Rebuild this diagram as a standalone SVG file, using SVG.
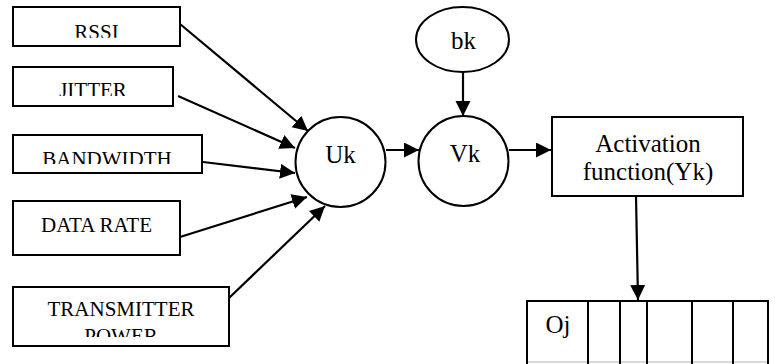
<svg xmlns="http://www.w3.org/2000/svg" width="779" height="364" viewBox="0 0 779 364">
<style>
.box{fill:#fff;stroke:#000;stroke-width:2}
.node{fill:#fff;stroke:#000;stroke-width:2}
.t{font-family:'Liberation Serif','DejaVu Serif',serif;fill:#000;text-anchor:middle}
.s21{font-size:21px}
.s25{font-size:25px}
.conn{stroke:#000;stroke-width:2.2;fill:none;marker-end:url(#ah)}
.grid{stroke:#000;stroke-width:2;fill:none}
</style>
<defs>
<marker id="ah" markerUnits="userSpaceOnUse" markerWidth="16" markerHeight="16" refX="15" refY="7.5" orient="auto">
<path d="M0,0 L15,7.5 L0,15 z" fill="#000"/>
</marker>
<clipPath id="c1"><rect x="13" y="7" width="167" height="30.7"/></clipPath>
<clipPath id="c2"><rect x="13" y="67" width="160" height="29"/></clipPath>
<clipPath id="c3"><rect x="13" y="135" width="189" height="29"/></clipPath>
<clipPath id="c5"><rect x="13" y="287" width="216" height="50"/></clipPath>
</defs>
<rect width="779" height="364" fill="#fff"/>
<g id="rssi">
<rect class="box" x="13" y="7" width="167" height="39"/>
<text class="t s21" x="96.5" y="39" clip-path="url(#c1)">RSSI</text>
</g>
<g id="jitter">
<rect class="box" x="13" y="67" width="160" height="39"/>
<text class="t s21" x="93" y="97" clip-path="url(#c2)">JITTER</text>
</g>
<g id="bandwidth">
<rect class="box" x="13" y="135" width="189" height="38"/>
<text class="t s21" x="107" y="166" clip-path="url(#c3)">BANDWIDTH</text>
</g>
<g id="datarate">
<rect class="box" x="13" y="201" width="167" height="54"/>
<text class="t s21" x="96.5" y="232">DATA RATE</text>
</g>
<g id="txpower">
<rect class="box" x="13" y="287" width="216" height="59"/>
<text class="t s21" x="121" y="316" clip-path="url(#c5)">TRANSMITTER<tspan x="121" y="343">POWER</tspan></text>
</g>
<g id="uk">
<circle class="node" cx="340.5" cy="162" r="45"/>
<text class="t s25" x="340.5" y="163">Uk</text>
</g>
<g id="vk">
<circle class="node" cx="463.5" cy="161" r="45"/>
<text class="t s25" x="465" y="162">Vk</text>
</g>
<g id="bk">
<ellipse class="node" cx="462.5" cy="39.5" rx="46.5" ry="32.5"/>
<text class="t s25" x="463.5" y="49">bk</text>
</g>
<g id="activation">
<rect class="box" x="552" y="117" width="191" height="79"/>
<text class="t s25" x="648" y="152">Activation</text>
<text class="t s25" x="648" y="180">function(Yk)</text>
</g>
<g id="oj">
<line x1="527" y1="362" x2="768" y2="362" stroke="#ccc" stroke-width="1.5"/>
<path class="grid" d="M527,364 V301 H768 V364 M588,301 V364 M620,301 V364 M647,301 V364 M692,301 V364 M733,301 V364"/>
<text class="t s25" x="558" y="333">Oj</text>
</g>
<g id="connectors">
<line class="conn" x1="180" y1="24" x2="308" y2="131"/>
<line class="conn" x1="178" y1="96" x2="295" y2="148"/>
<line class="conn" x1="203" y1="162" x2="295" y2="173"/>
<line class="conn" x1="180" y1="237" x2="307" y2="197"/>
<line class="conn" x1="229" y1="298" x2="325" y2="206"/>
<line class="conn" x1="386" y1="150" x2="419" y2="150"/>
<line class="conn" x1="509" y1="150" x2="551" y2="150"/>
<line class="conn" x1="463" y1="72" x2="463" y2="116"/>
<line class="conn" x1="636" y1="196" x2="638" y2="300"/>
</g>
</svg>
